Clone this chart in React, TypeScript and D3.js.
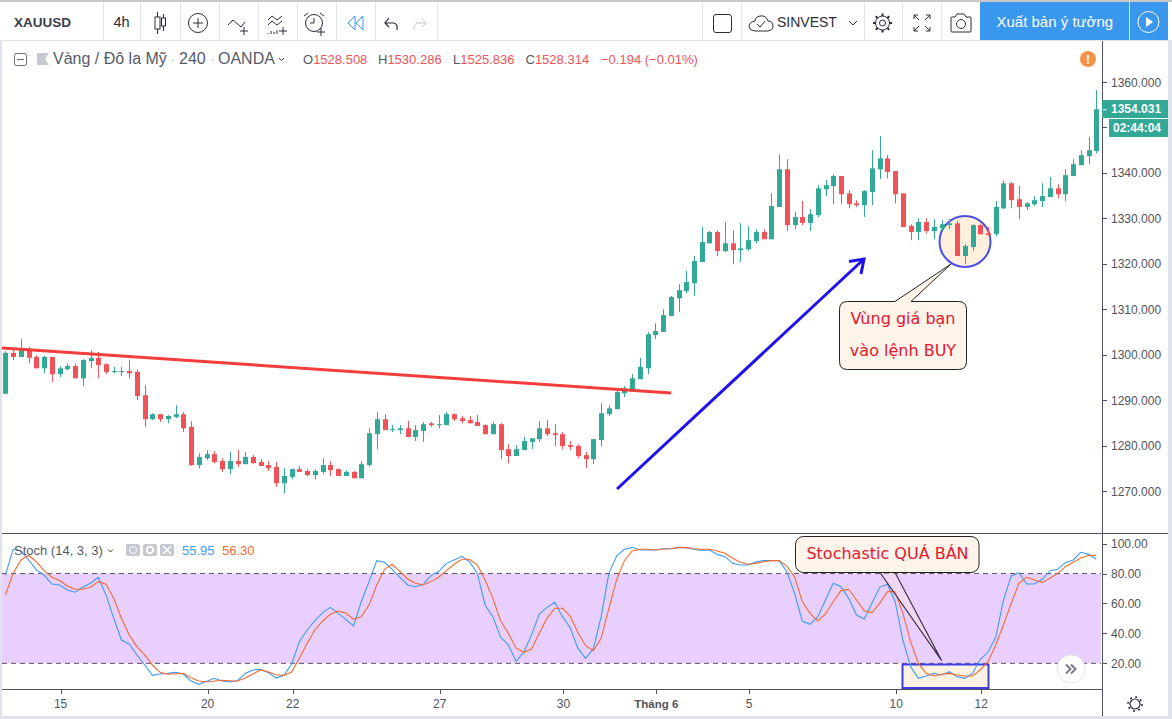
import React from "react";
import * as d3 from "d3";

const opens = [1291.4,1300.4,1299.5,1301.0,1299.5,1297.0,1299.5,1295.7,1296.8,1297.5,
1294.8,1298.6,1299.3,1297.9,1296.2,1296.2,1296.4,1296.2,1291.1,1285.8,
1286.9,1285.8,1286.3,1286.9,1284.1,1275.7,1277.2,1278.1,1276.6,1274.8,
1276.6,1275.9,1277.5,1276.4,1275.7,1275.3,1271.7,1273.1,1274.8,1274.4,
1273.5,1274.2,1275.7,1274.8,1273.3,1274.2,1272.8,1275.7,1282.5,1285.8,
1283.4,1283.4,1283.8,1281.9,1283.2,1284.9,1284.5,1284.5,1286.9,1286.0,
1285.6,1285.2,1284.5,1282.5,1284.7,1279.2,1277.7,1279.0,1280.8,1281.4,
1283.8,1282.7,1282.5,1280.1,1279.9,1277.9,1277.0,1281.2,1286.9,1288.0,
1291.5,1292.2,1294.6,1297.0,1304.3,1305.0,1308.5,1312.4,1314.0,1315.7,
1320.4,1324.5,1327.0,1322.8,1324.5,1323.0,1323.2,1325.0,1327.0,1325.4,
1332.5,1340.8,1328.5,1330.3,1329.0,1330.7,1336.4,1337.1,1339.3,1335.5,
1333.3,1332.9,1335.8,1340.8,1343.2,1340.4,1335.5,1328.3,1327.0,1329.2,
1327.2,1327.8,1328.5,1328.9,1321.7,1323.7,1328.5,1326.7,1326.5,1332.2,
1337.7,1334.2,1332.5,1333.1,1333.8,1334.7,1336.6,1335.3,1339.3,1341.7,
1343.7,1344.8];

const highs = [1300.8,1301.2,1303.4,1301.7,1299.9,1299.7,1299.5,1297.5,1298.1,1298.1,
1299.0,1301.0,1300.6,1298.1,1297.3,1297.3,1298.8,1296.8,1293.3,1287.1,
1286.9,1286.7,1288.9,1287.4,1285.4,1278.3,1279.0,1278.8,1277.2,1278.6,
1279.0,1278.6,1277.9,1277.0,1276.6,1276.4,1275.0,1275.0,1275.5,1274.8,
1274.8,1277.2,1276.6,1275.0,1274.6,1274.4,1276.6,1283.8,1287.4,1286.9,
1284.5,1284.5,1285.4,1284.5,1285.2,1285.2,1286.7,1287.4,1287.1,1286.5,
1286.5,1286.7,1284.7,1285.2,1284.9,1280.3,1280.1,1281.9,1281.6,1285.4,
1285.6,1284.7,1283.0,1281.0,1280.3,1278.6,1281.4,1289.3,1288.9,1292.2,
1293.1,1295.7,1299.3,1305.0,1306.9,1310.0,1312.9,1315.5,1318.4,1321.7,
1328.1,1327.2,1327.4,1329.2,1327.4,1328.9,1328.3,1327.6,1327.6,1335.5,
1344.1,1343.0,1331.4,1333.8,1332.0,1337.3,1338.4,1339.7,1339.3,1336.2,
1334.0,1336.2,1345.0,1348.1,1343.9,1340.4,1335.5,1328.7,1330.0,1330.0,
1329.8,1329.6,1329.8,1329.4,1324.3,1328.7,1328.7,1328.1,1333.8,1338.4,
1338.0,1337.1,1333.6,1334.9,1337.7,1339.1,1337.5,1340.8,1343.0,1345.0,
1347.9,1358.2];

const lows = [1291.4,1298.8,1299.5,1298.1,1297.0,1295.9,1294.0,1295.1,1296.6,1294.8,
1293.1,1297.0,1294.8,1295.7,1295.9,1295.3,1294.8,1290.0,1284.1,1285.6,
1285.2,1284.9,1286.0,1283.0,1275.5,1275.0,1276.8,1276.1,1274.2,1273.7,
1275.3,1275.9,1276.1,1275.5,1274.4,1270.9,1269.5,1272.6,1274.2,1273.3,
1272.6,1273.7,1273.3,1273.3,1273.3,1272.8,1272.8,1275.3,1279.2,1283.4,
1283.0,1282.5,1281.9,1281.0,1280.8,1284.1,1283.8,1284.5,1285.4,1284.9,
1284.9,1284.3,1282.5,1282.5,1277.0,1276.1,1277.7,1279.0,1279.2,1280.8,
1282.1,1279.9,1279.2,1279.0,1277.2,1275.0,1275.9,1279.9,1286.5,1288.0,
1290.7,1291.8,1294.6,1295.7,1303.4,1305.0,1308.5,1309.4,1313.5,1312.9,
1320.4,1324.5,1321.7,1322.6,1319.9,1320.4,1322.8,1324.5,1325.4,1325.4,
1332.5,1327.2,1327.6,1328.5,1327.2,1330.3,1334.9,1333.1,1333.1,1332.2,
1332.5,1330.3,1332.9,1338.6,1338.8,1333.3,1328.1,1325.2,1325.2,1326.7,
1325.4,1327.2,1327.6,1321.7,1319.9,1322.8,1326.5,1326.3,1326.1,1332.0,
1332.2,1329.8,1331.8,1332.7,1332.5,1334.7,1334.4,1333.8,1339.3,1341.7,
1341.9,1344.3];

const closes = [1300.4,1299.5,1301.0,1299.3,1297.0,1299.5,1295.7,1297.0,1297.5,1294.8,
1298.8,1299.3,1297.7,1296.2,1296.4,1296.4,1295.9,1290.9,1285.8,1286.9,
1285.8,1286.5,1286.9,1283.8,1275.7,1277.5,1278.1,1276.4,1274.8,1276.6,
1275.9,1277.5,1276.1,1275.5,1275.0,1271.7,1273.3,1274.8,1274.2,1273.5,
1274.4,1275.7,1274.6,1273.3,1274.2,1272.8,1275.9,1282.7,1285.8,1283.4,
1283.6,1283.8,1281.9,1283.4,1284.7,1284.5,1284.7,1286.9,1285.8,1285.4,
1284.9,1284.3,1282.5,1284.7,1279.0,1277.7,1279.2,1281.0,1281.6,1283.8,
1282.5,1282.3,1279.9,1279.7,1277.7,1277.0,1281.4,1287.1,1288.2,1291.8,
1292.6,1294.8,1297.3,1304.5,1305.2,1308.7,1312.7,1314.2,1316.0,1320.6,
1324.8,1327.0,1322.8,1324.5,1323.0,1323.4,1325.2,1327.0,1325.4,1332.7,
1340.8,1328.5,1330.3,1329.0,1330.9,1336.6,1337.3,1339.3,1335.3,1333.1,
1332.9,1336.0,1341.0,1343.2,1340.2,1335.3,1328.1,1327.0,1329.2,1327.2,
1328.1,1328.7,1328.9,1321.7,1323.9,1328.5,1326.5,1326.3,1332.5,1337.7,
1334.0,1332.5,1333.3,1334.0,1334.9,1336.6,1335.3,1339.5,1341.9,1343.9,
1345.0,1354.0];

const stochK = [79.0,96.2,95.3,89.1,82.4,79.0,73.0,72.4,69.0,67.5,
70.8,73.5,77.5,65.7,50.1,35.6,32.9,25.6,18.9,12.0,
12.9,13.3,14.0,12.9,8.2,6.0,8.0,10.0,8.2,7.6,
8.4,13.3,15.6,16.0,13.8,10.2,12.0,19.6,34.5,42.3,
48.5,53.9,57.4,53.4,49.4,45.0,61.2,74.6,88.6,87.5,
82.8,77.5,72.4,71.2,72.8,78.6,81.3,86.8,89.1,91.5,
87.9,80.1,59.0,51.2,37.4,32.3,21.4,27.4,38.9,53.0,
57.4,60.8,51.2,43.8,30.0,23.4,30.0,51.2,80.1,91.7,
96.2,97.5,95.7,95.7,95.7,96.6,96.6,97.5,97.3,96.2,
95.5,95.7,92.8,91.3,86.8,85.7,85.7,87.9,88.6,88.6,
88.6,81.3,66.8,48.3,46.1,51.2,62.3,73.5,71.2,63.4,
52.3,49.6,60.1,70.8,72.8,61.2,35.6,17.8,10.0,11.6,
13.3,12.2,14.4,11.1,10.0,13.3,22.7,27.4,37.4,62.3,
78.4,80.6,73.0,73.0,76.1,81.7,82.8,87.3,89.1,94.2,
92.8,89.5];

const stochD = [65.7,80.1,89.1,92.2,87.9,81.9,77.5,75.3,71.7,69.5,
69.5,70.8,74.6,72.8,63.4,50.1,38.9,31.2,25.6,18.9,
14.0,12.7,13.1,13.3,10.4,8.2,7.6,8.2,8.7,8.4,
8.2,10.2,12.9,15.6,14.2,12.4,12.0,14.2,23.4,33.4,
42.3,48.3,52.8,55.0,53.6,49.4,51.2,59.0,72.4,82.8,
86.2,81.3,76.4,73.5,72.4,74.6,77.5,81.9,86.2,89.5,
89.5,85.7,75.7,63.4,48.5,40.1,30.3,27.4,29.6,40.1,
50.1,56.8,56.8,51.6,40.5,31.8,28.5,36.7,56.8,75.7,
88.6,95.1,96.2,96.2,95.7,96.4,96.6,97.3,97.3,96.6,
96.2,96.2,95.1,93.5,90.2,87.5,86.2,86.8,87.9,88.6,
88.6,85.0,77.9,61.2,53.4,48.3,53.0,61.2,68.6,69.5,
62.3,55.2,53.9,60.1,67.9,67.9,53.4,34.5,20.0,13.3,
11.6,12.7,13.3,12.2,11.6,11.6,15.6,21.1,32.3,45.6,
60.1,73.5,77.5,75.7,74.1,76.8,80.1,84.6,87.5,90.4,
92.0,92.2];

const priceTicks = [1270,1280,1290,1300,1310,1320,1330,1340,1350,1360];
const stochTicks = [20,40,60,80,100];
const dateBars = [7,26,37,56,72,84,96,115,126];
const dateLabels = ["15","20","22","27","30","Tháng 6","5","10","12"];

const UP = "#32a897";
const DOWN = "#ef5357";
const AXIS = "#50535e";
const SANS = "'Liberation Sans', Arial, sans-serif";
const NOTE = "'DejaVu Sans', Verdana, sans-serif";

const x = d3.scaleLinear().domain([0, 141]).range([5.4, 1096.3]);
const yP = d3.scaleLinear().domain([1270, 1360]).range([491, 82]);
const yS = d3.scaleLinear().domain([0, 100]).range([693.3, 543.6]);

const lineK = d3.line<number>().x((_, i) => x(i)).y((v) => yS(v));

function Icon({ children }: { children: React.ReactNode }) {
  return <g fill="none" stroke="#2a2e39" strokeWidth={1}>{children}</g>;
}

function Gear({ cx, cy }: { cx: number; cy: number }) {
  const teeth = d3.range(8).map((k) => (k * Math.PI) / 4);
  return (
    <g fill="none" stroke="#2a2e39">
      <circle cx={cx} cy={cy} r={3} />
      <circle cx={cx} cy={cy} r={7} />
      {teeth.map((a) => (
        <line key={a} x1={cx + 7 * Math.cos(a)} y1={cy + 7 * Math.sin(a)} x2={cx + 9.5 * Math.cos(a)} y2={cy + 9.5 * Math.sin(a)} strokeWidth={2} />
      ))}
    </g>
  );
}

function Toolbar() {
  const seps = [103, 140, 180, 219, 258, 297, 336, 375, 437, 702, 741, 864, 902, 941];
  return (
    <g>
      <rect x={0} y={0} width={1172} height={41} fill="#fff" />
      <rect x={0} y={0} width={1172} height={2} fill="#c9c9c9" />
      <rect x={0} y={40} width={1172} height={1} fill="#e0e3eb" />
      {seps.map((s) => <rect key={s} x={s} y={2} width={1} height={38} fill="#e0e3eb" />)}
      <text x={14} y={27} fontFamily={SANS} fontSize={13.5} fontWeight={700} fill="#3a3e48">XAUUSD</text>
      <text x={113.5} y={27} fontFamily={SANS} fontSize={14.5} fill="#2a2e39">4h</text>
      <Icon>
        <path d="M157.5 12V34M163.5 14V31" />
        <rect x={155} y={17} width={5} height={12} fill="#fff" />
        <rect x={161.5} y={18} width={4} height={8} fill="#fff" />
        <circle cx={198} cy={23} r={9.5} />
        <path d="M198 18V28M193 23H203" />
        <path d="M228 25L233 20L241 27L245 22" />
        <path d="M244 27V35M240 31H248" />
        <path d="M268 20L272 16L277 20L282 16M268 25L272 21L277 25L282 21" />
        <path d="M268 34V33M271 34V31M274 34V32M277 34V30" />
        <path d="M283 27V35M279 31H287" />
        <circle cx={314} cy={23} r={8.5} />
        <path d="M314 18V23H310M308 13L304 16M320 13L324 16" />
        <path d="M321 28V36M317 32H325" />
        <path d="M385 23H394Q398 24 397 30M389 18L385 23L389 27" strokeWidth={1.2} />
        <path d="M426 23H417Q414 24 414 30M422 18L426 23L422 27" stroke="#c4c8d1" />
        <path d="M355 16L348 23L355 30ZM363 16L356 23L363 30Z" stroke="#3a97ee" strokeWidth={1} />
        <rect x={713.5} y={14.5} width={18} height={18} rx={2.5} />
        <path d="M755 31H768Q773 30 773 26Q773 21 768 21Q766 15 760 16Q755 17 755 21Q749 22 749 27Q750 31 755 31Z" />
        <path d="M757 24L760 27L765 21" />
        <path d="M849 21L853 25L857 21" />
        <path d="M914 19V15H918M914 15L919 20M930 19V15H926M930 15L925 20M914 27V31H918M914 31L919 26M930 27V31H926M930 31L925 26" />
        <path d="M952 17H955L957 14H964L966 17H970Q971 17 971 18V31Q971 32 970 32H952Q951 32 951 31V18Q951 17 952 17Z" />
        <circle cx={961} cy={24} r={4.5} />
      </Icon>
      <Gear cx={882.5} cy={23} />
      <text x={777} y={27} fontFamily={SANS} fontSize={14} fill="#2a2e39">SINVEST</text>
      <rect x={980} y={2} width={188} height={38} fill="#3a97ee" />
      <rect x={1129} y={2} width={1} height={38} fill="#fff" opacity={0.8} />
      <text x={996.5} y={27} fontFamily={SANS} fontSize={15} fill="#fff">Xuất bản ý tưởng</text>
      <circle cx={1148.5} cy={22} r={10.5} fill="none" stroke="#fff" />
      <path d="M1146 17L1153 22L1146 27Z" fill="#fff" />
    </g>
  );
}

function Legend() {
  const vals: [string, number, string][] = [["O", 303, "1528.508"], ["H", 378, "1530.286"], ["L", 453, "1525.836"], ["C", 525.5, "1528.314"]];
  return (
    <g fontFamily={SANS}>
      <rect x={14.5} y={53.5} width={12} height={12} rx={2} fill="#fff" stroke="#6a6d78" />
      <path d="M17 59.5H24" stroke="#6a6d78" />
      <path d="M37 53H49L45 59L49 65H37Z" fill="#c6c9d1" />
      <text x={53} y={64} fontSize={16} fill="#555a66">Vàng / Đô la Mỹ</text>
      <text x={170.5} y={64} fontSize={12} fill="#a9acb5">·</text>
      <text x={179} y={64} fontSize={16} fill="#555a66">240</text>
      <text x={210.5} y={64} fontSize={12} fill="#a9acb5">·</text>
      <text x={218} y={64} fontSize={16} fill="#555a66">OANDA</text>
      <path d="M279 58L281.5 60.5L284 58" fill="none" stroke="#444" />
      {vals.map(([k, px, v]) => (
        <text key={k} x={px} y={64} fontSize={13}>
          <tspan fill="#555a66">{k}</tspan>
          <tspan fill={DOWN}>{v}</tspan>
        </text>
      ))}
      <text x={601} y={64} fontSize={13} fill={DOWN}>−0.194 (−0.01%)</text>
      <circle cx={1088} cy={59} r={8} fill="#f7924a" />
      <text x={1088} y={63.5} fontSize={12} fontWeight={700} fill="#fff" textAnchor="middle">!</text>
    </g>
  );
}

function Candles() {
  return (
    <g>
      {opens.map((o, i) => {
        const c = closes[i];
        const col = c >= o ? UP : DOWN;
        const cx = Math.round(x(i));
        const top = yP(Math.max(o, c));
        const bot = yP(Math.min(o, c));
        return (
          <g key={i} fill={col}>
            <rect x={cx} y={yP(highs[i])} width={1} height={yP(lows[i]) - yP(highs[i])} />
            <rect x={cx - 2} y={top} width={5} height={Math.max(1, bot - top)} />
          </g>
        );
      })}
    </g>
  );
}

function Annotations() {
  return (
    <g>
      <line x1={2} y1={348} x2={671} y2={393} stroke="#f23f3c" strokeWidth={3} />
      <g fill="none" stroke="#1f10ee" strokeWidth={3}>
        <line x1={617} y1={489} x2={864} y2={259} />
        <path d="M849 261.5L864 259L861 274" />
      </g>
      <path d="M847.5 301.5H895L951 264L911 301.5H958.5Q966.5 301.5 966.5 309.5V361.5Q966.5 369.5 958.5 369.5H847.5Q839.5 369.5 839.5 361.5V309.5Q839.5 301.5 847.5 301.5Z" fill="#fff4ea" stroke="#222" strokeWidth={1} />
      <g fontFamily={NOTE} fontSize={16} fill="#e3172f" textAnchor="middle">
        <text x={903} y={324}>Vùng giá bạn</text>
        <text x={903} y={356}>vào lệnh BUY</text>
      </g>
    </g>
  );
}

function StochPane() {
  return (
    <g>
      <rect x={2} y={yS(80)} width={1099} height={yS(20) - yS(80)} fill="#e9cffd" />
      <line x1={2} x2={1101} y1={yS(80)} y2={yS(80)} stroke="#5d5168" strokeDasharray="5 4" />
      <line x1={2} x2={1101} y1={yS(20)} y2={yS(20)} stroke="#5d5168" strokeDasharray="5 4" />
      <rect x={902.5} y={664.5} width={86} height={23.5} fill="#fdf1e3" stroke="#3e3de0" strokeWidth={2} />
      <path d={lineK(stochK) ?? ""} fill="none" stroke="#3f9bf6" strokeWidth={1.1} />
      <path d={lineK(stochD) ?? ""} fill="none" stroke="#f46a30" strokeWidth={1.1} />
      <path d="M880 572.5L941.7 660.7L895 572.5Z" fill="#ffe9dd" fillOpacity={0.35} stroke="#3d2f47" strokeWidth={1.2} />
      <rect x={795.5} y={536.5} width={183.5} height={36} rx={8} fill="#fff4ea" stroke="#222" strokeWidth={1} />
      <text x={887.5} y={559} fontFamily={NOTE} fontSize={16} fill="#e3172f" textAnchor="middle">Stochastic QUÁ BÁN</text>
      <g fontFamily={SANS}>
        <text x={14} y={555} fontSize={13} fill="#555a66">Stoch (14, 3, 3)</text>
        <path d="M108 549.5L110.5 552L113 549.5" fill="none" stroke="#444" />
        {[126, 143, 160].map((bx) => <rect key={bx} x={bx} y={544} width={14} height={12} rx={2} fill="#c5c8d0" />)}
        <circle cx={133} cy={550} r={3.5} fill="none" stroke="#fff" />
        <circle cx={150} cy={550} r={3.2} fill="none" stroke="#fff" strokeWidth={2} />
        <path d="M163 546L171 554M171 546L163 554" stroke="#fff" strokeWidth={1.5} />
        <text x={182} y={555} fontSize={13} fill="#3f9bf6">55.95</text>
        <text x={222} y={555} fontSize={13} fill="#f46a30">56.30</text>
      </g>
    </g>
  );
}

function Axes() {
  return (
    <g fontFamily={SANS} fontSize={12} fill="#50535e">
      <rect x={1102} y={41} width={1} height={675} fill={AXIS} />
      <rect x={2} y={533} width={1166} height={1} fill={AXIS} />
      <rect x={2} y={689} width={1100} height={1} fill={AXIS} />
      {priceTicks.map((t) => (
        <g key={t}>
          <rect x={1103} y={Math.round(yP(t))} width={4} height={1} fill={AXIS} />
          <text x={1111} y={yP(t) + 4.5}>{t.toFixed(3)}</text>
        </g>
      ))}
      {stochTicks.map((t) => (
        <g key={t}>
          <rect x={1103} y={Math.round(yS(t))} width={4} height={1} fill={AXIS} />
          <text x={1111} y={yS(t) + 4.5}>{t.toFixed(2)}</text>
        </g>
      ))}
      {dateBars.map((b, i) => (
        <g key={b}>
          <rect x={Math.round(x(b)) + 1} y={690} width={1} height={4} fill={AXIS} />
          <text x={x(b) + 1} y={708} textAnchor="middle" fontWeight={dateLabels[i].length > 2 ? 700 : 400} fontSize={dateLabels[i].length > 2 ? 11.5 : 12}>{dateLabels[i]}</text>
        </g>
      ))}
      <rect x={1102} y={100} width={66} height={18} fill={UP} />
      <rect x={1103} y={yP(1354)} width={4} height={1} fill="#fff" />
      <text x={1111} y={113} fontWeight={700} fontSize={12} fill="#fff">1354.031</text>
      <rect x={1109} y={119} width={59} height={18} fill={UP} />
      <text x={1113} y={132} fontWeight={700} fontSize={12} fill="#fff">02:44:04</text>
      <circle cx={1071} cy={669} r={14} fill="#fff" stroke="#e6e6ea" />
      <path d="M1066 664.5L1070.5 669L1066 673.5M1071 664.5L1075.5 669L1071 673.5" fill="none" stroke="#787b86" strokeWidth={2} />
      <circle cx={1135} cy={704} r={5} fill="none" stroke="#2a2e39" strokeWidth={1.2} />
      <circle cx={1135} cy={704} r={7} fill="none" stroke="#2a2e39" strokeWidth={1.6} strokeDasharray="2 3.5" />
    </g>
  );
}

export default function App() {
  return (
    <svg
      width={1172}
      height={719}
      viewBox="0 0 1172 719"
      style={{ position: "fixed", left: 0, top: 0, display: "block", background: "#fff" }}
    >
      <rect x={0} y={0} width={2} height={719} fill="#e0e3eb" />
      <rect x={1168} y={0} width={4} height={719} fill="#e0e3eb" />
      <rect x={0} y={716} width={1172} height={3} fill="#e0e3eb" />
      <circle cx={965} cy={241.5} r={25.5} fill="#fef0dc" stroke="#4a4de6" strokeWidth={2} />
      <Candles />
      <StochPane />
      <Axes />
      <Annotations />
      <Legend />
      <Toolbar />
    </svg>
  );
}
